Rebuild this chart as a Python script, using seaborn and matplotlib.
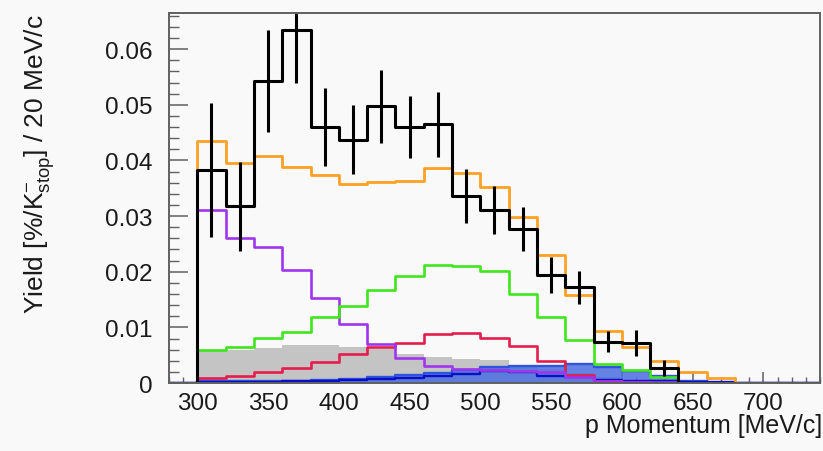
import numpy as np
import matplotlib
matplotlib.use("Agg")
import matplotlib.pyplot as plt
from matplotlib.ticker import FixedLocator, FixedFormatter, MultipleLocator
import seaborn as sns

# Momentum binning: 20 MeV/c bins from 280 to 740 MeV/c
bin_width = 20
bin_range = (280, 740)
bin_centers = np.arange(bin_range[0], bin_range[1], bin_width) + bin_width / 2

# Measured yield [%/K-stop] per bin and its statistical error
data_yield = [0, 0.0383, 0.0318, 0.0543, 0.0634, 0.0460, 0.0437, 0.0497, 0.0460,
              0.0465, 0.0336, 0.0311, 0.0277, 0.0194, 0.0172, 0.0074, 0.0072,
              0.0027, 0, 0, 0, 0, 0]
data_error = [0, 0.0120, 0.0080, 0.0092, 0.0094, 0.0070, 0.0062, 0.0065, 0.0056,
              0.0058, 0.0048, 0.0043, 0.0040, 0.0033, 0.0030, 0.0019, 0.0023,
              0.0015, 0, 0, 0, 0, 0]

# Simulated components
total_mc = [0, 0.0435, 0.0395, 0.0408, 0.0388, 0.0374, 0.0357, 0.0361, 0.0363,
            0.0386, 0.0377, 0.0353, 0.0298, 0.0230, 0.0158, 0.0093, 0.0065,
            0.0040, 0.0020, 0.0009, 0, 0, 0]
comp_violet = [0, 0.0311, 0.0260, 0.0244, 0.0203, 0.0153, 0.0106, 0.0071, 0.0045,
               0.0031, 0.0025, 0.0023, 0.0021, 0.0019, 0.0011, 0.0004, 0.0002,
               0.0001, 0, 0, 0, 0, 0]
comp_green = [0, 0.0060, 0.0064, 0.0081, 0.0092, 0.0119, 0.0138, 0.0167, 0.0192,
              0.0212, 0.0210, 0.0201, 0.0160, 0.0119, 0.0077, 0.0034, 0.0023,
              0.0011, 0, 0, 0, 0, 0]
comp_red = [0, 0.0009, 0.0012, 0.0019, 0.0027, 0.0038, 0.0052, 0.0064, 0.0072,
            0.0088, 0.0090, 0.0081, 0.0067, 0.0040, 0.0014, 0.0003, 0.0001,
            0, 0, 0, 0, 0, 0]
comp_gray = [0, 0.0058, 0.0059, 0.0063, 0.0068, 0.0068, 0.0065, 0.0061, 0.0053,
             0.0047, 0.0043, 0.0041, 0.0030, 0.0025, 0.0018, 0.0010, 0.0005,
             0.0002, 0, 0, 0, 0, 0]
comp_blue_fill = [0, 0.0003, 0.0003, 0.0004, 0.0004, 0.0006, 0.0008, 0.0010, 0.0014,
                  0.0018, 0.0024, 0.0029, 0.0031, 0.0031, 0.0034, 0.0029, 0.0022,
                  0.0013, 0.0003, 0, 0, 0, 0]
comp_navy = [0, 0.0002, 0.0002, 0.0002, 0.0003, 0.0004, 0.0005, 0.0007, 0.0009,
             0.0012, 0.0016, 0.0021, 0.0019, 0.0013, 0.0010, 0.0006, 0.0004,
             0.0003, 0.0002, 0.0001, 0, 0, 0]

x_ticks = [300, 350, 400, 450, 500, 550, 600, 650, 700]
x_tick_labels = ["300", "350", "400", "450", "500", "550", "600", "650", "700"]
y_ticks = [0, 0.01, 0.02, 0.03, 0.04, 0.05, 0.06]
y_tick_labels = ["0", "0.01", "0.02", "0.03", "0.04", "0.05", "0.06"]

sns.set_theme(style="ticks")
plt.rcParams["font.family"] = ["Liberation Sans", "DejaVu Sans"]
plt.rcParams["mathtext.fontset"] = "custom"
plt.rcParams["mathtext.rm"] = "Liberation Sans"
plt.rcParams["mathtext.it"] = "Liberation Sans"
plt.rcParams["mathtext.default"] = "regular"

bg = "#f9f9f9"
frame = "#606060"

fig = plt.figure(figsize=(8.23, 4.52), dpi=100, facecolor=bg)
ax = fig.add_axes([0.2053, 0.1504, 0.7911, 0.8186])
ax.set_facecolor(bg)


def hist(values, color, lw=1.9, fill=False, alpha=1.0, z=2):
    kws = dict(x=bin_centers, weights=list(values), binwidth=bin_width,
               binrange=bin_range, element="step", ax=ax, legend=False, zorder=z)
    if fill:
        sns.histplot(fill=True, color=color, alpha=alpha, linewidth=0, **kws)
    else:
        sns.histplot(fill=False, color=color, linewidth=lw, **kws)


# Filled backgrounds
hist(comp_gray, "#c4c4c4", fill=True, alpha=1.0, z=1)
hist(comp_blue_fill, "#4a6fe0", fill=True, alpha=0.85, z=1.2)
hist(comp_blue_fill, "#2f55dc", lw=1.7, z=1.3)

# Component outlines
hist(comp_navy, "#0a10c8", lw=1.7, z=2)
hist(comp_red, "#e41e4c", z=2.1)
hist(comp_violet, "#a035ee", z=2.2)
hist(comp_green, "#3fe61c", z=2.3)
hist(total_mc, "#ffa124", lw=2.0, z=2.4)

# Data
hist(data_yield, "black", lw=2.2, z=3)
dy = np.array(data_yield)
de = np.array(data_error)
mask = dy > 0
ax.errorbar(bin_centers[mask], dy[mask], yerr=de[mask], fmt="none",
            ecolor="black", elinewidth=2.2, capsize=0, zorder=3.1)

ax.set_xlim(280, 740)
ax.set_ylim(0, 0.0665)

ax.xaxis.set_major_locator(FixedLocator(x_ticks))
ax.xaxis.set_major_formatter(FixedFormatter(x_tick_labels))
ax.xaxis.set_minor_locator(MultipleLocator(10))
ax.yaxis.set_major_locator(FixedLocator(y_ticks))
ax.yaxis.set_major_formatter(FixedFormatter(y_tick_labels))
ax.yaxis.set_minor_locator(MultipleLocator(0.002))

ax.tick_params(axis="both", which="both", direction="in", colors=frame,
               labelcolor="#1a1a1a", top=False, right=False)
ax.tick_params(axis="x", which="major", length=8, width=1.1, pad=6.5, labelsize=17.5)
ax.tick_params(axis="x", which="minor", length=4, width=1.0)
ax.tick_params(axis="y", which="major", length=14, width=1.1, pad=11.5, labelsize=17.5)
ax.tick_params(axis="y", which="minor", length=7, width=1.0)

for side in ["left", "bottom", "top", "right"]:
    ax.spines[side].set_visible(True)
    ax.spines[side].set_color(frame)
    ax.spines[side].set_linewidth(1.4)
    ax.spines[side].set_zorder(5)

ax.set_xlabel("p Momentum [MeV/c]", fontsize=18, color="#1a1a1a", loc="right")
ax.xaxis.set_label_coords(1.003, -0.082)
ax.set_ylabel(r"Yield [%/K$^{-}_{stop}$] / 20 MeV/c", fontsize=19,
              color="#1a1a1a", loc="top")
ax.yaxis.set_label_coords(-0.172, 1.0)

fig.savefig("out.png", dpi=100, facecolor=bg)
